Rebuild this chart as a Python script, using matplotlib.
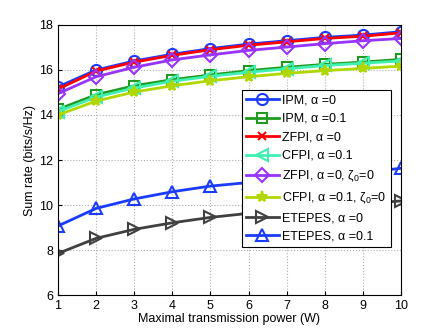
import matplotlib
matplotlib.use("Agg")
import matplotlib.pyplot as plt

plt.rcParams['font.family'] = ['Liberation Sans', 'DejaVu Sans']
plt.rcParams['mathtext.fontset'] = 'custom'
plt.rcParams['mathtext.rm'] = 'Liberation Sans'
plt.rcParams['mathtext.it'] = 'Liberation Sans'

power = [1, 2, 3, 4, 5, 6, 7, 8, 9, 10]
ipm_a0 = [15.25, 16.0, 16.4, 16.7, 16.95, 17.15, 17.3, 17.45, 17.55, 17.7]
ipm_a01 = [14.25, 14.9, 15.3, 15.57, 15.78, 15.97, 16.12, 16.25, 16.35, 16.47]
zfpi_a0 = [15.15, 15.95, 16.35, 16.65, 16.9, 17.1, 17.25, 17.4, 17.5, 17.65]
cfpi_a01 = [14.15, 14.8, 15.2, 15.5, 15.72, 15.9, 16.05, 16.2, 16.3, 16.4]
zfpi_z0 = [14.95, 15.7, 16.12, 16.45, 16.67, 16.87, 17.02, 17.17, 17.3, 17.4]
cfpi_z0 = [14.0, 14.62, 15.02, 15.3, 15.52, 15.7, 15.85, 15.97, 16.07, 16.17]
etepes_a0 = [7.85, 8.52, 8.92, 9.21, 9.45, 9.63, 9.78, 9.92, 10.05, 10.18]
etepes_a01 = [9.07, 9.85, 10.27, 10.59, 10.84, 11.0, 11.15, 11.3, 11.45, 11.63]

labels = ['IPM, α =0', 'IPM, α =0.1', 'ZFPI, α =0',
          'CFPI, α =0.1', r'ZFPI, α =0, ζ$_0$=0',
          r'CFPI, α =0.1, ζ$_0$=0', 'ETEPES, α =0',
          'ETEPES, α =0.1']

fig = plt.figure(figsize=(4.43, 3.33), dpi=100)
ax = fig.add_axes([0.131, 0.114, 0.774, 0.811])

series = [ipm_a0, ipm_a01, zfpi_a0, cfpi_a01, zfpi_z0, cfpi_z0, etepes_a0, etepes_a01]
colors = ['#1a3cff', '#1f9a1f', '#ff0000', '#40f0b0', '#9933ff', '#b0d800', '#404040', '#1a3cff']
markers = ['o', 's', 'x', '<', 'D', '*', '>', '^']
msizes = [8, 7, 6, 8, 7, 8, 9, 9]

for ys, c, m, ms, lab in zip(series, colors, markers, msizes, labels):
    filled = m in ('x', '*')
    ax.plot(power, ys, color=c, lw=2, marker=m, markersize=ms,
            markerfacecolor=c if filled else 'none', markeredgecolor=c,
            markeredgewidth=1.5, label=lab)

ax.set_xlim(1, 10)
ax.set_ylim(6, 18)
ax.set_xticks(range(1, 11))
ax.set_yticks([6, 8, 10, 12, 14, 16, 18])
ax.grid(True, linestyle=':', color='#b0b0b0', lw=0.8)
ax.tick_params(labelsize=9, direction='in', length=3)
ax.set_xlabel('Maximal transmission power (W)', fontsize=9, labelpad=1)
ax.set_ylabel('Sum rate (bits/s/Hz)', fontsize=9, labelpad=2)

leg = ax.legend(loc='upper left', bbox_to_anchor=(0.536, 0.759), fontsize=9,
                handlelength=2.6, handletextpad=0.3, borderpad=0.35,
                labelspacing=0.52, fancybox=False, framealpha=1, edgecolor='black',
                borderaxespad=0)
leg.get_frame().set_linewidth(0.8)

fig.savefig('out.png', dpi=100)
